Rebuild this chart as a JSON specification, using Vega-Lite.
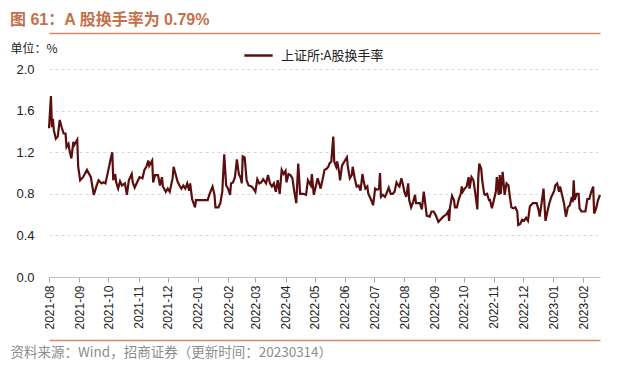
{
  "$schema": "https://vega.github.io/schema/vega-lite/v6.json",
  "autosize": "none",
  "width": 551,
  "height": 208,
  "padding": {"left": 49, "top": 69, "right": 40, "bottom": 91},
  "background": "white",
  "config": {"view": {"stroke": null}, "font": "Liberation Sans, Noto Sans CJK SC"},
  "title": {"text": "图 61：A 股换手率为 0.79%", "anchor": "start", "frame": "group", "dx": -39, "dy": 3, "fontSize": 16, "fontWeight": "bold", "color": "#C4704A", "font": "Liberation Sans, Noto Sans CJK SC", "offset": 8},
  "data": {"values": [
    {"date":"2021-08-01","value":1.43},{"date":"2021-08-03","value":1.74},{"date":"2021-08-04","value":1.44},{"date":"2021-08-05","value":1.52},{"date":"2021-08-06","value":1.41},{"date":"2021-08-08","value":1.33},{"date":"2021-08-10","value":1.35},{"date":"2021-08-12","value":1.51},{"date":"2021-08-14","value":1.44},{"date":"2021-08-16","value":1.38},{"date":"2021-08-18","value":1.38},{"date":"2021-08-19","value":1.25},{"date":"2021-08-21","value":1.28},{"date":"2021-08-22","value":1.22},{"date":"2021-08-24","value":1.14},{"date":"2021-08-26","value":1.30},{"date":"2021-08-27","value":1.27},{"date":"2021-08-30","value":1.32},{"date":"2021-08-31","value":1.06},
    {"date":"2021-09-02","value":0.93},{"date":"2021-09-05","value":0.96},{"date":"2021-09-09","value":1.03},{"date":"2021-09-13","value":0.96},{"date":"2021-09-16","value":0.79},{"date":"2021-09-19","value":0.88},{"date":"2021-09-21","value":0.93},{"date":"2021-09-24","value":0.90},{"date":"2021-09-26","value":0.91},{"date":"2021-09-28","value":0.90},
    {"date":"2021-10-01","value":1.03},{"date":"2021-10-03","value":1.12},{"date":"2021-10-05","value":1.20},{"date":"2021-10-06","value":0.93},{"date":"2021-10-08","value":0.99},{"date":"2021-10-09","value":0.91},{"date":"2021-10-11","value":0.85},{"date":"2021-10-13","value":0.92},{"date":"2021-10-15","value":0.88},{"date":"2021-10-18","value":0.90},{"date":"2021-10-20","value":0.79},{"date":"2021-10-22","value":0.93},{"date":"2021-10-25","value":0.99},{"date":"2021-10-26","value":0.91},{"date":"2021-10-28","value":0.86},{"date":"2021-10-31","value":0.92},
    {"date":"2021-11-02","value":0.96},{"date":"2021-11-05","value":0.95},{"date":"2021-11-07","value":1.03},{"date":"2021-11-09","value":1.06},{"date":"2021-11-11","value":1.12},{"date":"2021-11-12","value":1.07},{"date":"2021-11-15","value":1.12},{"date":"2021-11-16","value":0.91},{"date":"2021-11-18","value":0.98},{"date":"2021-11-21","value":0.98},{"date":"2021-11-23","value":0.88},{"date":"2021-11-25","value":0.96},{"date":"2021-11-26","value":0.87},{"date":"2021-11-29","value":0.82},
    {"date":"2021-12-01","value":0.85},{"date":"2021-12-03","value":0.82},{"date":"2021-12-06","value":0.95},{"date":"2021-12-07","value":1.06},{"date":"2021-12-09","value":0.99},{"date":"2021-12-11","value":0.92},{"date":"2021-12-13","value":0.88},{"date":"2021-12-15","value":0.85},{"date":"2021-12-17","value":0.88},{"date":"2021-12-19","value":0.85},{"date":"2021-12-21","value":0.90},{"date":"2021-12-23","value":0.83},{"date":"2021-12-24","value":0.90},{"date":"2021-12-26","value":0.75},{"date":"2021-12-29","value":0.67},{"date":"2021-12-30","value":0.74},
    {"date":"2022-01-03","value":0.74},{"date":"2022-01-08","value":0.74},{"date":"2022-01-11","value":0.74},{"date":"2022-01-13","value":0.80},{"date":"2022-01-16","value":0.87},{"date":"2022-01-18","value":0.79},{"date":"2022-01-19","value":0.67},{"date":"2022-01-22","value":0.67},{"date":"2022-01-24","value":0.71},{"date":"2022-01-26","value":0.82},{"date":"2022-01-28","value":1.18},{"date":"2022-01-30","value":0.88},
    {"date":"2022-02-01","value":0.85},{"date":"2022-02-03","value":0.79},{"date":"2022-02-04","value":0.90},{"date":"2022-02-06","value":0.91},{"date":"2022-02-08","value":0.96},{"date":"2022-02-10","value":1.13},{"date":"2022-02-12","value":0.99},{"date":"2022-02-14","value":0.95},{"date":"2022-02-15","value":0.90},{"date":"2022-02-16","value":1.16},{"date":"2022-02-18","value":1.15},{"date":"2022-02-20","value":0.93},{"date":"2022-02-22","value":0.88},{"date":"2022-02-25","value":0.87},{"date":"2022-02-27","value":0.85},
    {"date":"2022-03-01","value":0.82},{"date":"2022-03-03","value":0.94},{"date":"2022-03-05","value":0.90},{"date":"2022-03-07","value":0.91},{"date":"2022-03-09","value":0.94},{"date":"2022-03-12","value":0.90},{"date":"2022-03-14","value":0.98},{"date":"2022-03-16","value":0.90},{"date":"2022-03-18","value":0.87},{"date":"2022-03-20","value":0.90},{"date":"2022-03-22","value":0.82},{"date":"2022-03-24","value":0.93},{"date":"2022-03-26","value":0.80},{"date":"2022-03-28","value":1.03},{"date":"2022-03-30","value":0.99},
    {"date":"2022-04-01","value":1.02},{"date":"2022-04-02","value":0.91},{"date":"2022-04-04","value":0.99},{"date":"2022-04-06","value":0.98},{"date":"2022-04-08","value":0.95},{"date":"2022-04-10","value":0.82},{"date":"2022-04-12","value":0.71},{"date":"2022-04-14","value":1.09},{"date":"2022-04-16","value":0.80},{"date":"2022-04-19","value":0.80},{"date":"2022-04-22","value":0.79},{"date":"2022-04-24","value":0.93},{"date":"2022-04-27","value":0.88},{"date":"2022-04-28","value":0.99},{"date":"2022-04-30","value":0.79},
    {"date":"2022-05-02","value":0.87},{"date":"2022-05-04","value":0.95},{"date":"2022-05-07","value":0.85},{"date":"2022-05-10","value":0.98},{"date":"2022-05-11","value":1.03},{"date":"2022-05-13","value":1.04},{"date":"2022-05-15","value":1.06},{"date":"2022-05-16","value":1.09},{"date":"2022-05-18","value":1.11},{"date":"2022-05-20","value":1.35},{"date":"2022-05-21","value":1.11},{"date":"2022-05-23","value":1.06},{"date":"2022-05-24","value":1.11},{"date":"2022-05-26","value":1.01},{"date":"2022-05-27","value":0.93},{"date":"2022-05-29","value":1.07},
    {"date":"2022-06-01","value":1.12},{"date":"2022-06-03","value":1.15},{"date":"2022-06-04","value":1.06},{"date":"2022-06-06","value":0.95},{"date":"2022-06-08","value":0.98},{"date":"2022-06-09","value":1.06},{"date":"2022-06-11","value":0.95},{"date":"2022-06-13","value":0.87},{"date":"2022-06-15","value":0.88},{"date":"2022-06-17","value":0.83},{"date":"2022-06-19","value":0.99},{"date":"2022-06-20","value":0.93},{"date":"2022-06-22","value":0.85},{"date":"2022-06-24","value":0.87},{"date":"2022-06-25","value":0.80},{"date":"2022-06-28","value":0.74},{"date":"2022-06-30","value":0.69},
    {"date":"2022-07-02","value":0.85},{"date":"2022-07-04","value":0.84},{"date":"2022-07-06","value":0.85},{"date":"2022-07-07","value":1.00},{"date":"2022-07-08","value":0.77},{"date":"2022-07-10","value":0.79},{"date":"2022-07-12","value":0.77},{"date":"2022-07-14","value":0.81},{"date":"2022-07-16","value":0.86},{"date":"2022-07-18","value":0.80},{"date":"2022-07-20","value":0.80},{"date":"2022-07-22","value":0.82},{"date":"2022-07-24","value":0.91},{"date":"2022-07-26","value":0.88},{"date":"2022-07-27","value":0.87},{"date":"2022-07-29","value":0.95},{"date":"2022-07-31","value":0.87},
    {"date":"2022-08-01","value":0.82},{"date":"2022-08-03","value":0.77},{"date":"2022-08-05","value":0.90},{"date":"2022-08-06","value":0.74},{"date":"2022-08-08","value":0.67},{"date":"2022-08-10","value":0.72},{"date":"2022-08-12","value":0.79},{"date":"2022-08-13","value":0.71},{"date":"2022-08-16","value":0.71},{"date":"2022-08-17","value":0.71},{"date":"2022-08-19","value":0.65},{"date":"2022-08-21","value":0.82},{"date":"2022-08-23","value":0.67},{"date":"2022-08-24","value":0.59},{"date":"2022-08-27","value":0.58},{"date":"2022-08-29","value":0.63},{"date":"2022-08-31","value":0.63},
    {"date":"2022-09-02","value":0.60},{"date":"2022-09-05","value":0.53},{"date":"2022-09-07","value":0.55},{"date":"2022-09-10","value":0.58},{"date":"2022-09-13","value":0.60},{"date":"2022-09-15","value":0.63},{"date":"2022-09-16","value":0.54},{"date":"2022-09-17","value":0.67},{"date":"2022-09-19","value":0.78},{"date":"2022-09-21","value":0.74},{"date":"2022-09-22","value":0.67},{"date":"2022-09-24","value":0.67},{"date":"2022-09-26","value":0.75},{"date":"2022-09-28","value":0.80},{"date":"2022-09-29","value":0.87},{"date":"2022-09-30","value":0.82},
    {"date":"2022-10-02","value":0.85},{"date":"2022-10-04","value":0.87},{"date":"2022-10-06","value":0.96},{"date":"2022-10-07","value":0.85},{"date":"2022-10-09","value":0.96},{"date":"2022-10-11","value":0.93},{"date":"2022-10-13","value":0.80},{"date":"2022-10-15","value":0.65},{"date":"2022-10-16","value":0.96},{"date":"2022-10-17","value":1.09},{"date":"2022-10-19","value":1.04},{"date":"2022-10-20","value":0.93},{"date":"2022-10-22","value":0.80},{"date":"2022-10-23","value":0.79},{"date":"2022-10-25","value":0.80},{"date":"2022-10-27","value":0.74},{"date":"2022-10-28","value":0.74},{"date":"2022-10-30","value":0.66},
    {"date":"2022-11-01","value":0.74},{"date":"2022-11-03","value":0.82},{"date":"2022-11-04","value":0.96},{"date":"2022-11-06","value":0.79},{"date":"2022-11-07","value":0.98},{"date":"2022-11-08","value":0.80},{"date":"2022-11-10","value":1.01},{"date":"2022-11-11","value":0.90},{"date":"2022-11-12","value":0.79},{"date":"2022-11-14","value":0.90},{"date":"2022-11-16","value":0.88},{"date":"2022-11-17","value":0.80},{"date":"2022-11-19","value":0.67},{"date":"2022-11-21","value":0.66},{"date":"2022-11-23","value":0.67},{"date":"2022-11-25","value":0.63},{"date":"2022-11-26","value":0.50},{"date":"2022-11-28","value":0.51},{"date":"2022-11-30","value":0.55},
    {"date":"2022-12-02","value":0.54},{"date":"2022-12-04","value":0.57},{"date":"2022-12-06","value":0.54},{"date":"2022-12-08","value":0.68},{"date":"2022-12-11","value":0.71},{"date":"2022-12-13","value":0.71},{"date":"2022-12-15","value":0.71},{"date":"2022-12-17","value":0.64},{"date":"2022-12-18","value":0.58},{"date":"2022-12-20","value":0.71},{"date":"2022-12-22","value":0.85},{"date":"2022-12-24","value":0.54},{"date":"2022-12-26","value":0.63},{"date":"2022-12-28","value":0.71},{"date":"2022-12-30","value":0.77},
    {"date":"2023-01-02","value":0.83},{"date":"2023-01-03","value":0.88},{"date":"2023-01-05","value":0.90},{"date":"2023-01-07","value":0.82},{"date":"2023-01-08","value":0.87},{"date":"2023-01-10","value":0.79},{"date":"2023-01-12","value":0.71},{"date":"2023-01-14","value":0.58},{"date":"2023-01-16","value":0.67},{"date":"2023-01-18","value":0.69},{"date":"2023-01-20","value":0.77},{"date":"2023-01-21","value":0.72},{"date":"2023-01-22","value":0.93},{"date":"2023-01-23","value":0.74},{"date":"2023-01-25","value":0.80},{"date":"2023-01-27","value":0.80},{"date":"2023-01-28","value":0.66},{"date":"2023-01-30","value":0.63},
    {"date":"2023-02-01","value":0.63},{"date":"2023-02-03","value":0.63},{"date":"2023-02-05","value":0.75},{"date":"2023-02-07","value":0.75},{"date":"2023-02-09","value":0.82},{"date":"2023-02-11","value":0.87},{"date":"2023-02-12","value":0.61},{"date":"2023-02-14","value":0.66},{"date":"2023-02-16","value":0.74},{"date":"2023-02-18","value":0.79}
  ]},
  "resolve": {"scale": {"x": "shared"}, "axis": {"x": "independent"}},
  "layer": [
    {
      "mark": {"type": "line", "strokeWidth": 2.2, "interpolate": "linear"},
      "encoding": {
        "x": {"field": "date", "type": "temporal",
          "scale": {"type": "utc", "nice": false, "domain": [{"year": 2021, "month": 8, "date": 1, "utc": true}, {"year": 2023, "month": 2, "date": 18, "utc": true}]},
          "axis": {"orient": "bottom", "title": null, "format": "%Y-%m", "labelAngle": -90, "tickCount": {"interval": "month", "step": 1}, "tickSize": 5, "tickColor": "#a6a6a6", "domainColor": "#bfbfbf", "labelFontSize": 12, "labelColor": "#222222", "labelPadding": 3, "grid": false, "labelFont": "Liberation Sans", "labelOverlap": false}},
        "y": {"field": "value", "type": "quantitative",
          "scale": {"domain": [0, 2], "nice": false},
          "axis": {"values": [0, 0.4, 0.8, 1.2, 1.6, 2.0], "format": ".1f", "domain": false, "ticks": false, "labelFontSize": 13, "labelColor": "#222222", "labelPadding": 15, "labelFont": "Liberation Sans", "grid": true, "gridDash": [3, 3], "gridColor": "#d9d9d9",
            "title": "单位：%", "titleAngle": 0, "titleX": -39, "titleY": -21, "titleAlign": "left", "titleBaseline": "middle", "titleFontSize": 12, "titleFontWeight": "normal", "titleColor": "#222222", "titleFont": "Noto Sans CJK SC"}},
        "color": {"datum": "上证所:A股换手率", "type": "nominal",
          "scale": {"range": ["#5C0E0E"]},
          "legend": {"orient": "none", "legendX": 194, "legendY": -29, "title": null, "symbolType": "stroke", "symbolSize": 800, "symbolStrokeWidth": 2.5, "labelFontSize": 13, "labelColor": "#222222", "labelFont": "Noto Sans CJK SC", "labelOffset": 7, "padding": 0}}
      }
    },
    {
      "mark": {"type": "line", "opacity": 0},
      "encoding": {
        "x": {"field": "date", "type": "temporal", "axis": {"orient": "top", "offset": 36, "labels": false, "ticks": false, "grid": false, "domainColor": "#D08A67", "domainWidth": 1.5, "title": null}}
      }
    },
    {
      "mark": {"type": "line", "opacity": 0},
      "encoding": {
        "x": {"field": "date", "type": "temporal", "axis": {"orient": "bottom", "offset": 63, "labels": false, "ticks": false, "grid": false, "domainColor": "#D08A67", "domainWidth": 1.5,
          "title": "资料来源：Wind，招商证券（更新时间：20230314）", "titleX": -39, "titleY": 12, "titleAlign": "left", "titleBaseline": "middle", "titleFontSize": 13.5, "titleFontWeight": "normal", "titleColor": "#8c8c8c", "titleFont": "Noto Sans CJK SC"}}
      }
    }
  ]
}
